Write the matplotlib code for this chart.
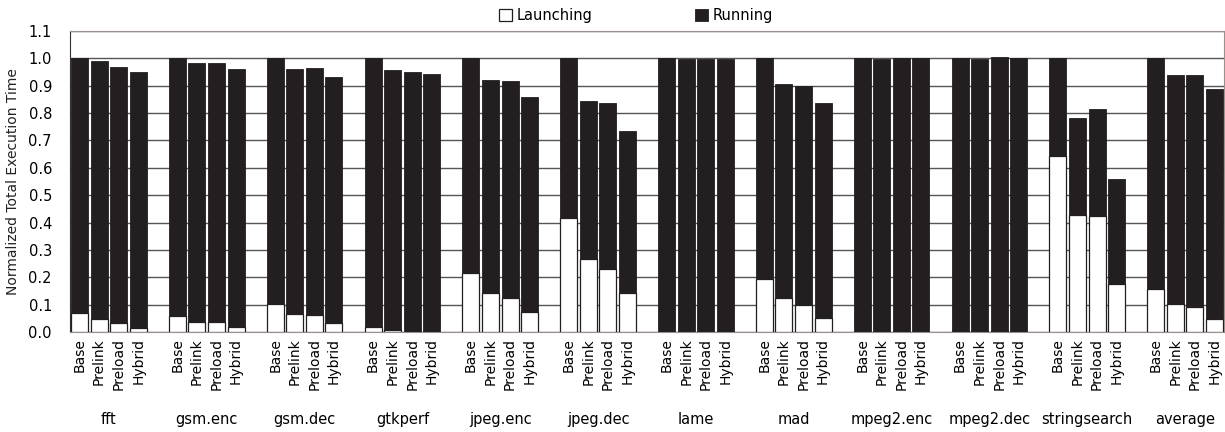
import numpy as np
import matplotlib
matplotlib.use("Agg")
import matplotlib.pyplot as plt
from matplotlib.transforms import blended_transform_factory

benchmarks = ["fft", "gsm.enc", "gsm.dec", "gtkperf", "jpeg.enc", "jpeg.dec", "lame",
              "mad", "mpeg2.enc", "mpeg2.dec", "stringsearch", "average"]
configs = ["Base", "Prelink", "Preload", "Hybrid"]

# total normalized execution time (launching + running), per benchmark x config
total = [
    [1.000, 0.988, 0.968, 0.951],
    [1.000, 0.984, 0.983, 0.961],
    [1.000, 0.960, 0.965, 0.932],
    [1.000, 0.956, 0.949, 0.942],
    [1.000, 0.919, 0.916, 0.859],
    [1.000, 0.842, 0.837, 0.734],
    [1.000, 0.998, 0.998, 0.997],
    [1.000, 0.904, 0.899, 0.835],
    [1.000, 0.998, 1.002, 0.999],
    [1.000, 0.998, 1.004, 0.999],
    [1.000, 0.781, 0.815, 0.559],
    [1.000, 0.939, 0.939, 0.888],
]
# launching portion
launching = [
    [0.069, 0.047, 0.035, 0.015],
    [0.059, 0.038, 0.037, 0.021],
    [0.103, 0.068, 0.062, 0.035],
    [0.021, 0.008, 0.000, 0.000],
    [0.215, 0.142, 0.126, 0.075],
    [0.416, 0.267, 0.231, 0.144],
    [0.000, 0.000, 0.000, 0.000],
    [0.195, 0.125, 0.101, 0.051],
    [0.000, 0.000, 0.000, 0.000],
    [0.005, 0.003, 0.005, 0.000],
    [0.642, 0.429, 0.424, 0.177],
    [0.157, 0.102, 0.092, 0.047],
]

DARK = "#231f20"
plt.rcParams["font.family"] = ["DejaVu Sans"]

launch = np.array(launching)
run = np.array(total) - launch

fig = plt.figure(figsize=(12.25, 4.32), dpi=100)
ax = fig.add_axes([70 / 1225, 1 - 332.3 / 432, 1154 / 1225, (332.3 - 30.7) / 432])

pos = np.array([[g * 5 + i for i in range(4)] for g in range(len(benchmarks))], float)
w = 0.87
x = pos.ravel()
ax.bar(x, launch.ravel(), width=w, color="white", edgecolor=DARK, lw=0.9, label="Launching", zorder=3)
ax.bar(x, run.ravel(), bottom=launch.ravel(), width=w, color=DARK, edgecolor=DARK, lw=0.6,
       label="Running", zorder=3)

ax.set_xlim(x[0] - w / 2 - 0.05, x[-1] + w / 2 + 0.05)
ax.set_ylim(0, 1.1)
ax.set_yticks(np.arange(0, 1.11, 0.1))
ax.set_yticklabels([f"{v:.1f}" for v in np.arange(0, 1.11, 0.1)], fontsize=10.5)
ax.grid(axis="y", color="#555555", lw=1.0, zorder=0)
ax.set_axisbelow(True)
ax.set_ylabel("Normalized Total Execution Time", fontsize=10, color="#222222", labelpad=6)

ax.set_xticks(x)
ax.set_xticklabels(configs * len(benchmarks), rotation=90, fontsize=10)
ax.tick_params(axis="x", length=0, pad=4)
ax.tick_params(axis="y", length=0, pad=13)

for s in ("top", "right", "bottom"):
    ax.spines[s].set_color("#9a918e")
ax.spines["left"].set_color("#333333")

tr = blended_transform_factory(ax.transData, ax.transAxes)
for g, name in enumerate(benchmarks):
    ax.text(pos[g].mean(), -0.29, name, transform=tr, ha="center", va="center", fontsize=10.5)

ax.legend(loc="lower center", bbox_to_anchor=(0.5 - 11 / 1154, 1.0), ncol=2, frameon=False,
          fontsize=10.5, handlelength=0.9, handleheight=0.9, handletextpad=0.3, columnspacing=7,
          borderaxespad=0.1)

fig.savefig("out.png", dpi=100)
